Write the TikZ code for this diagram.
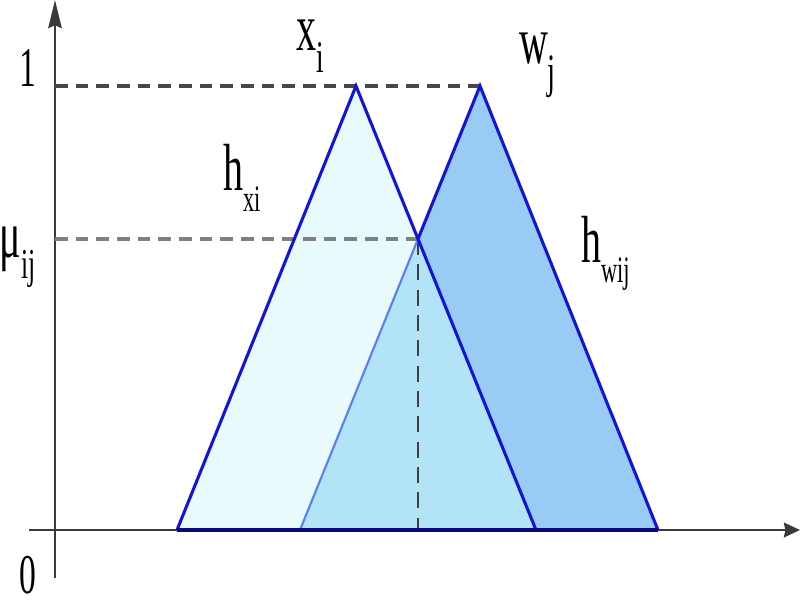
\documentclass[tikz,border=0pt]{standalone}
\usepackage{fontspec}
\setmainfont{Liberation Serif}
\usetikzlibrary{arrows.meta}
\definecolor{triA}{HTML}{E8FAFC}
\definecolor{triB}{HTML}{99CCF5}
\definecolor{triAB}{HTML}{B3E3F7}
\definecolor{edge}{HTML}{1414D8}
\definecolor{edgelight}{HTML}{5A80F0}
\definecolor{basecol}{HTML}{0A0A80}
\definecolor{axiscol}{HTML}{3A3A3A}
\tikzset{
  axis/.style={draw=axiscol, line width=1.9pt},
  guide/.style={draw=black!72, line width=2.6pt, dash pattern=on 9.5pt off 6pt},
  guidelight/.style={draw=black!50, line width=3pt, dash pattern=on 9.5pt off 6pt},
  guidev/.style={draw=black!75, line width=1.6pt, dash pattern=on 12pt off 7pt},
  outline/.style={draw=edge, line width=2.3pt, line join=miter},
  lbl/.style={inner sep=0pt, outer sep=0pt, anchor=base west, xscale=0.6},
}
\newcommand{\mainsz}[1]{{\fontsize{50}{50}\selectfont #1}}
\newcommand{\subs}[3]{\raisebox{-#1pt}{\fontsize{#2}{#2}\selectfont #3}}
\begin{document}
\begin{tikzpicture}[x=0.75pt,y=-0.75pt]
\useasboundingbox (0,0) rectangle (800,600);
% key points
\coordinate (a1) at (177,530);
\coordinate (p1) at (356,86);
\coordinate (b1) at (536,530);
\coordinate (a2) at (300,530);
\coordinate (p2) at (480,86);
\coordinate (b2) at (658,530);
\coordinate (I) at (intersection of p1--b1 and a2--p2);
\coordinate (yI) at (55,0 |- I);
\coordinate (xI) at (I |- 0,530);
\coordinate (y1) at (55,86);
% axes
\coordinate (yb) at (55,578);
\coordinate (yt) at (55,0);
\coordinate (xl) at (29,530);
\coordinate (xr) at (800,530);
\draw[axis, -{Stealth[length=21pt, width=10pt, inset=2pt]}] (yb) -- (yt);
\draw[axis, -{Stealth[length=12pt, width=11pt, inset=1pt]}] (xl) -- (xr);
% fills
\fill[triB] (a2) -- (p2) -- (b2) -- cycle;
\fill[triA] (a1) -- (p1) -- (b1) -- cycle;
\fill[triAB] (a2) -- (I) -- (b1) -- cycle;
% guides
\draw[guide] (y1) -- (p2);
\draw[guidelight] (yI) -- (I);
\draw[guidev] (I) -- (xI);
% outlines
\draw[draw=edgelight, line width=1.6pt] (a2) -- (I);
\draw[outline] (I) -- (p2) -- (b2);
\draw[outline] (a1) -- (p1) -- (b1);
\draw[draw=basecol, line width=2.6pt] (a1) -- (b2);
% labels
\node[lbl] (one) at (20,86) {\fontsize{42}{42}\selectfont 1};
\node[lbl] (zero) at (20,593) {\fontsize{42}{42}\selectfont 0};
\node[lbl] (xi) at (296,50) {\mainsz{x}\subs{17}{34}{i}};
\node[lbl] (wj) at (519,63) {\mainsz{w}\subs{18}{36}{j}};
\node[lbl] (hxi) at (223,190) {\mainsz{h}\subs{16}{28}{xi}};
\node[lbl] (hwij) at (581,262) {\mainsz{h}\subs{15}{28}{wij}};
\node[lbl] (mu) at (0,257) {\mainsz{μ}\subs{16}{32}{ij}};
\end{tikzpicture}
\end{document}
